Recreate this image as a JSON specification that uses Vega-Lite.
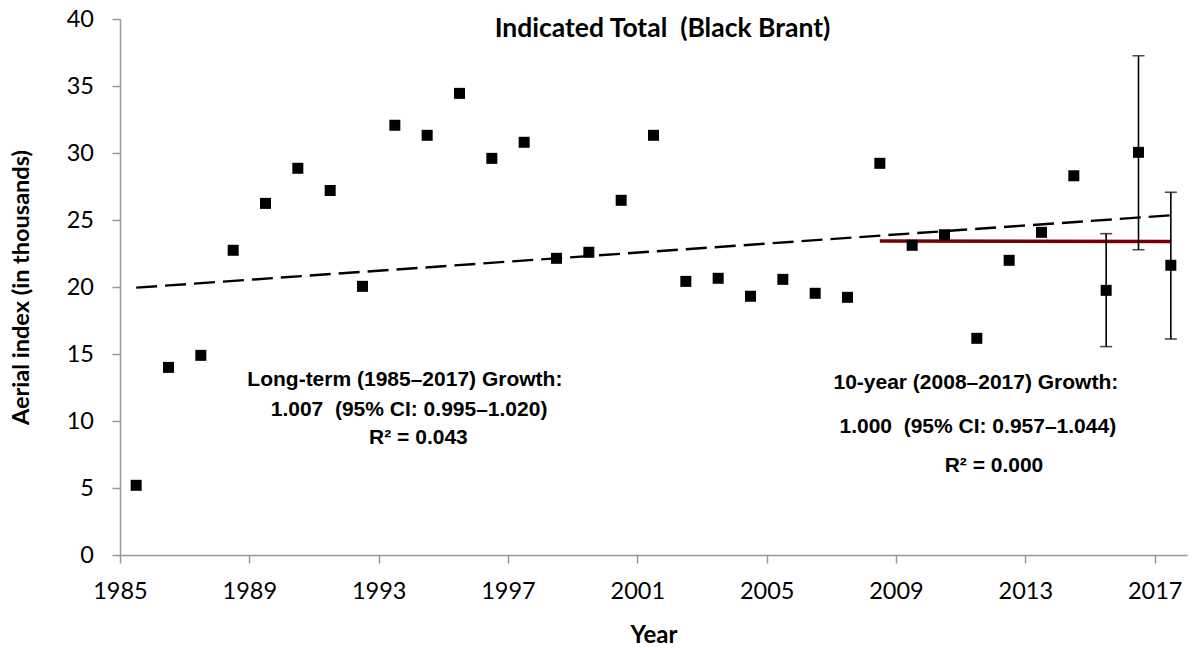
{
  "$schema": "https://vega.github.io/schema/vega-lite/v6.json",
  "width": 1067,
  "height": 536,
  "autosize": "none",
  "padding": {"left": 120, "top": 19, "right": 17, "bottom": 93},
  "background": "white",
  "config": {"view": {"stroke": null}, "font": "Lato"},
  "title": {"text": "Indicated Total \u00a0(Black Brant)", "font": "Lato", "fontSize": 26.5, "fontWeight": "bold", "color": "black", "anchor": "middle", "baseline": "alphabetic", "offset": -20, "dy": 36, "dx": 9},
  "datasets": {
    "counts": [
      {"year": 1985, "index": 5.2}, {"year": 1986, "index": 14.0}, {"year": 1987, "index": 14.9},
      {"year": 1988, "index": 22.74}, {"year": 1989, "index": 26.24}, {"year": 1990, "index": 28.86},
      {"year": 1991, "index": 27.2}, {"year": 1992, "index": 20.05}, {"year": 1993, "index": 32.07},
      {"year": 1994, "index": 31.32}, {"year": 1995, "index": 34.45}, {"year": 1996, "index": 29.6},
      {"year": 1997, "index": 30.8}, {"year": 1998, "index": 22.14}, {"year": 1999, "index": 22.59},
      {"year": 2000, "index": 26.47}, {"year": 2001, "index": 31.32}, {"year": 2002, "index": 20.42},
      {"year": 2003, "index": 20.65}, {"year": 2004, "index": 19.31}, {"year": 2005, "index": 20.57},
      {"year": 2006, "index": 19.53}, {"year": 2007, "index": 19.23}, {"year": 2008, "index": 29.23},
      {"year": 2009, "index": 23.11}, {"year": 2010, "index": 23.9}, {"year": 2011, "index": 16.17},
      {"year": 2012, "index": 21.99}, {"year": 2013, "index": 24.08}, {"year": 2014, "index": 28.3},
      {"year": 2015, "index": 19.75}, {"year": 2016, "index": 30.05}, {"year": 2017, "index": 21.62}
    ],
    "ci": [
      {"year": 2015, "low": 15.55, "high": 23.98},
      {"year": 2016, "low": 22.78, "high": 37.26},
      {"year": 2017, "low": 16.12, "high": 27.07}
    ],
    "longterm": [{"year": 1985, "fit": 19.95}, {"year": 2017, "fit": 25.35}],
    "tenyear": [{"year": 2008, "fit": 23.43}, {"year": 2017, "fit": 23.4}],
    "notes": [
      {"x": 1993.81, "y": 13.06, "label": "Long-term (1985–2017) Growth:"},
      {"x": 1993.94, "y": 10.82, "label": "1.007 \u00a0(95% CI: 0.995–1.020)"},
      {"x": 1994.23, "y": 8.73, "label": "R² = 0.043"},
      {"x": 2011.47, "y": 12.84, "label": "10-year (2008–2017) Growth:"},
      {"x": 2011.53, "y": 9.55, "label": "1.000 \u00a0(95% CI: 0.957–1.044)"},
      {"x": 2012.03, "y": 6.64, "label": "R² = 0.000"}
    ]
  },
  "layer": [
    {
      "data": {"name": "longterm"},
      "mark": {"type": "line", "color": "black", "strokeWidth": 2.4, "strokeDash": [21, 8], "xOffset": 16.17},
      "encoding": {
        "x": {"field": "year", "type": "quantitative", "scale": {"domain": [1985, 2018], "nice": false, "zero": false},
          "axis": {"values": [1985, 1989, 1993, 1997, 2001, 2005, 2009, 2013, 2017], "format": "d", "labelFlush": false,
            "title": "Year", "titleFont": "Lato", "titleFontSize": 24, "titleFontWeight": "bold", "titleColor": "black", "titlePadding": 20,
            "labelFont": "Lato", "labelFontSize": 23.5, "labelColor": "black", "labelPadding": 16.5,
            "domainColor": "#999999", "domainWidth": 1.5, "tickColor": "#999999", "tickWidth": 1.5, "tickSize": 8, "grid": false}},
        "y": {"field": "fit", "type": "quantitative", "scale": {"domain": [0, 40], "nice": false},
          "axis": {"values": [0, 5, 10, 15, 20, 25, 30, 35, 40], "labelFlush": false,
            "title": "Aerial index (in thousands)", "titleFont": "Lato", "titleFontSize": 23.5, "titleFontWeight": "bold", "titleColor": "black", "titlePadding": 33,
            "labelFont": "Lato", "labelFontSize": 23.5, "labelColor": "black", "labelPadding": 18.5,
            "domainColor": "#999999", "domainWidth": 1.5, "tickColor": "#999999", "tickWidth": 1.5, "tickSize": 8, "grid": false}}
      }
    },
    {
      "data": {"name": "tenyear"},
      "mark": {"type": "line", "color": "#760000", "strokeWidth": 3.5, "xOffset": 16.17},
      "encoding": {
        "x": {"field": "year", "type": "quantitative"},
        "y": {"field": "fit", "type": "quantitative"}
      }
    },
    {
      "data": {"name": "ci"},
      "mark": {"type": "rule", "color": "black", "strokeWidth": 1.6, "xOffset": 16.17},
      "encoding": {
        "x": {"field": "year", "type": "quantitative"},
        "y": {"field": "low", "type": "quantitative"},
        "y2": {"field": "high"}
      }
    },
    {
      "data": {"name": "ci"},
      "mark": {"type": "tick", "orient": "horizontal", "color": "black", "size": 12, "thickness": 1.6, "xOffset": 16.17},
      "encoding": {
        "x": {"field": "year", "type": "quantitative"},
        "y": {"field": "low", "type": "quantitative"}
      }
    },
    {
      "data": {"name": "ci"},
      "mark": {"type": "tick", "orient": "horizontal", "color": "black", "size": 12, "thickness": 1.6, "xOffset": 16.17},
      "encoding": {
        "x": {"field": "year", "type": "quantitative"},
        "y": {"field": "high", "type": "quantitative"}
      }
    },
    {
      "data": {"name": "counts"},
      "mark": {"type": "point", "shape": "square", "filled": true, "color": "black", "opacity": 1, "size": 121, "xOffset": 16.17},
      "encoding": {
        "x": {"field": "year", "type": "quantitative"},
        "y": {"field": "index", "type": "quantitative"}
      }
    },
    {
      "data": {"name": "notes"},
      "mark": {"type": "text", "font": "Liberation Sans", "fontSize": 21, "fontWeight": "bold", "color": "black", "align": "center", "baseline": "middle"},
      "encoding": {
        "x": {"field": "x", "type": "quantitative"},
        "y": {"field": "y", "type": "quantitative"},
        "text": {"field": "label"}
      }
    }
  ]
}
